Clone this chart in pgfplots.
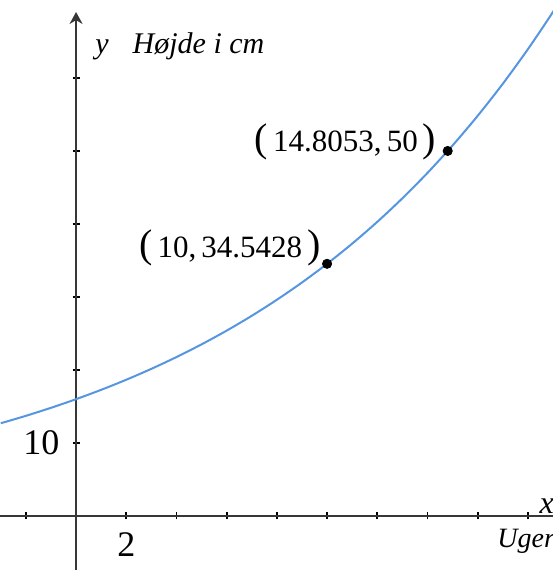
\documentclass[border=0pt]{standalone}
\usepackage{pgfplots}
\pgfplotsset{compat=1.18}
\usepackage{fontspec}
\setmainfont{Liberation Serif}
\usetikzlibrary{arrows.meta}
\definecolor{curveblue}{RGB}{86,150,225}
\definecolor{axisgray}{RGB}{55,55,55}

% f(x) = 16 * 1.08^x, sampled at whole weeks
\pgfplotstableread{
x y
-3 12.701
-2 13.717
-1 14.815
0 16.000
1 17.280
2 18.662
3 20.155
4 21.768
5 23.509
6 25.390
7 27.421
8 29.615
9 31.984
10 34.543
11 37.306
12 40.290
13 43.514
14 46.995
15 50.755
16 54.815
17 59.200
18 63.936
19 69.051
20 74.575
}\growth

\begin{document}
\begin{tikzpicture}
\useasboundingbox (0,0) rectangle (276.5pt,285pt);
\clip (0,0) rectangle (276.5pt,285pt);
\begin{axis}[
  scale only axis,
  width=276.5pt, height=285pt,
  xmin=-3.03, xmax=19.0,
  ymin=-7.4, ymax=70.68,
  axis lines=middle,
  axis line style={axisgray, line width=1.2pt},
  x axis line style={-},
  y axis line style={-{Stealth[length=6pt,width=6.5pt]}, shorten >=6pt},
  xtick={-2,2,4,6,8,10,12,14,16,18},
  xticklabels={,2,,,,,,,,},
  ytick={10,20,30,40,50,60},
  yticklabels={10,,,,,},
  tick style={black, line width=0.9pt},
  major tick length=3.5pt,
  tick align=center,
  /pgf/number format/assume math mode=true,
  xticklabel style={font=\fontsize{18}{20}\selectfont, yshift=-3pt},
  yticklabel style={font=\fontsize{18}{20}\selectfont, xshift=-3pt},
  clip=false,
]
\addplot[curveblue, line width=1pt, smooth] table[x=x, y=y] {\growth};
\addplot[only marks, mark=*, mark size=2.3pt, black] coordinates {(10,34.5428) (14.8053,50)};

\node[anchor=base east, inner sep=0pt, font=\fontsize{15.5}{17}\selectfont]
  at (axis cs:10,34.5428) [xshift=-3pt, yshift=3pt]
  {{\fontsize{20}{21}\selectfont(}\,10,\,34.5428\,{\fontsize{20}{21}\selectfont)}};
\node[anchor=base east, inner sep=0pt, font=\fontsize{15.5}{17}\selectfont]
  at (axis cs:14.8053,50) [xshift=-5.5pt, yshift=-0.5pt]
  {{\fontsize{20}{21}\selectfont(}\,14.8053,\,50\,{\fontsize{20}{21}\selectfont)}};

\node[anchor=base west, inner sep=0pt, font=\fontsize{15}{17}\selectfont\itshape]
  at (axis cs:0,63.4) [xshift=9.5pt] {y\hspace{12pt}Højde i cm};
\node[anchor=base west, inner sep=0pt, font=\fontsize{16}{18}\selectfont\itshape]
  at (axis cs:18.45,0.4) {x};
\node[anchor=base west, inner sep=0pt, font=\fontsize{14}{16}\selectfont\itshape]
  at (axis cs:16.77,-4.25) {Uger};
\end{axis}
\end{tikzpicture}
\end{document}
